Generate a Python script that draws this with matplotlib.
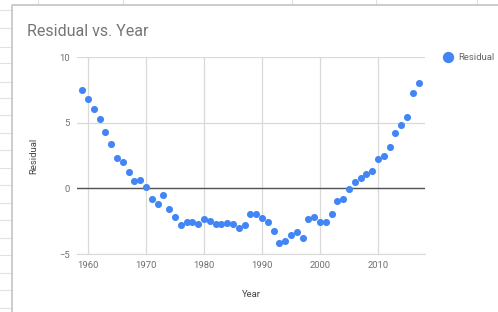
import matplotlib
matplotlib.use("Agg")
import matplotlib.pyplot as plt

plt.rcParams['font.family'] = ['Roboto', 'DejaVu Sans']

# residuals, one per year
years = list(range(1959, 2018))
residual = [7.45, 6.84, 6.03, 5.29, 4.28, 3.37, 2.33, 2.0, 1.24, 0.58,
            0.61, 0.13, -0.81, -1.22, -0.53, -1.55, -2.18, -2.81, -2.6, -2.6,
            -2.74, -2.3, -2.5, -2.74, -2.69, -2.64, -2.74, -2.99, -2.76, -1.93,
            -1.93, -2.23, -2.53, -3.27, -4.15, -3.98, -3.55, -3.29, -3.75, -2.33,
            -2.18, -2.56, -2.53, -1.93, -0.99, -0.84, -0.08, 0.48, 0.81, 1.06,
            1.34, 2.26, 2.46, 3.14, 4.23, 4.81, 5.45, 7.29, 8.05]
xticks = [1960, 1970, 1980, 1990, 2000, 2010]
yticks = [-5, 0, 5, 10]

# spreadsheet cells showing around the chart (pixel positions)
sheet_rows = [10, 28.3, 46.7, 63.3, 81.7, 98.3, 115, 133.3, 150, 168.3,
              185, 203.3, 220, 238.3, 255, 273.3, 290, 308.3]
sheet_cols = [38, 123, 292, 376, 477]

blue = '#4285F4'
grey = '#757575'

fig = plt.figure(figsize=(4.98, 3.12), dpi=100)

# background sheet layer
bg = fig.add_axes([0, 0, 1, 1])
bg.set_xlim(0, 498)
bg.set_ylim(312, 0)
bg.axis('off')
for y in sheet_rows:
    bg.plot([0, 11.5], [y, y], c='#e2e2e2', lw=0.8)
for x in sheet_cols:
    bg.plot([x, x], [0, 4.5], c='#e2e2e2', lw=0.8)
bg.plot([11.5, 11.5, 498], [312, 4.5, 4.5], c='#c4c4c4', lw=1.2)

ax = fig.add_axes([77 / 498, 1 - 254 / 312, 348 / 498, 197 / 312])
ax.set_facecolor('none')
ax.scatter(years, residual, s=26, c=blue, zorder=3, linewidths=0,
           label='Residual')
ax.set_xlim(1958.1, 2018.1)
ax.set_ylim(-5, 10)
ax.set_xticks(xticks)
ax.set_yticks(yticks)
ax.grid(True, color='#d9d9d9', lw=0.9)
ax.axhline(0, color='#555555', lw=1.0, zorder=2)
for s in ['top', 'right', 'left']:
    ax.spines[s].set_visible(False)
ax.spines['bottom'].set_color('#d9d9d9')
ax.tick_params(length=0, labelsize=6.8, labelcolor='#707070', pad=5)
ax.set_xlabel('Year', fontsize=6.8, color='#444444', labelpad=14.5)
ax.set_ylabel('Residual', fontsize=6.8, color='#444444', labelpad=15)

fig.text(27 / 498, 1 - 32 / 312, 'Residual vs. Year', fontsize=11.5,
         color=grey, va='center', ha='left')

leg = ax.legend(loc='upper left', bbox_to_anchor=(1.027, 1.04), frameon=False,
                fontsize=6.8, markerscale=1.6, handletextpad=0.1,
                borderaxespad=0)
for t in leg.get_texts():
    t.set_color('#666666')

plt.savefig('out.png', dpi=100)
